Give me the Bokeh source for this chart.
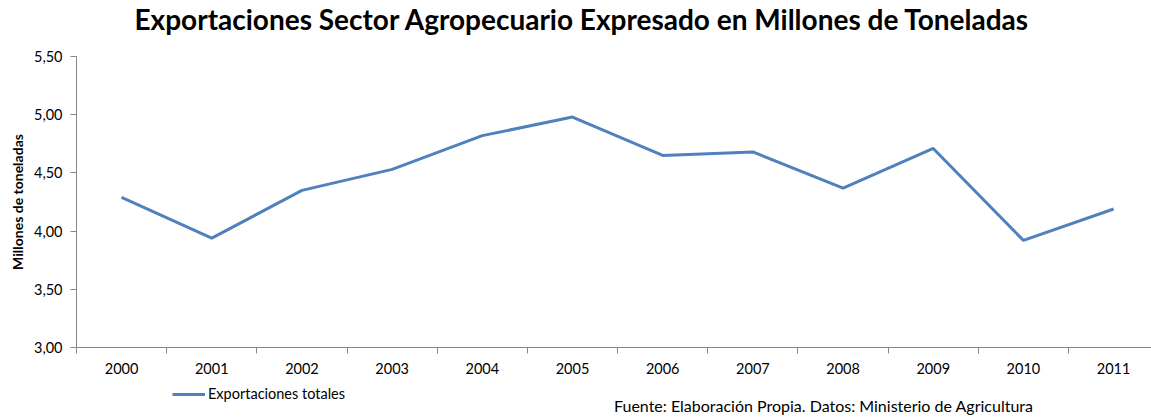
from bokeh.plotting import figure
from bokeh.layouts import column
from bokeh.models import (Range1d, FixedTicker, Legend, LegendItem, Label,
                          ColumnDataSource)
from bokeh.embed import file_html
from bokeh.resources import INLINE

# ---- data ----
years = [2000, 2001, 2002, 2003, 2004, 2005, 2006, 2007, 2008, 2009, 2010, 2011]
exportaciones = [4.29, 3.94, 4.35, 4.53, 4.82, 4.98, 4.65, 4.68, 4.37, 4.71, 3.92, 4.19]
y_ticks = [3.0, 3.5, 4.0, 4.5, 5.0, 5.5]
title_text = "Exportaciones Sector Agropecuario Expresado en Millones de Toneladas"
y_label = "Millones de toneladas"
series_name = "Exportaciones totales"
source_text = "Fuente: Elaboración Propia. Datos: Ministerio de Agricultura"

FONT = "Lato"
LINE_COLOR = "#4F81BD"
AXIS_COLOR = "#868686"
src = ColumnDataSource(dict(x=years, y=exportaciones))


def strip(height):
    f = figure(width=1151, height=height, output_backend="svg", toolbar_location=None,
               x_range=Range1d(76, 1151), y_range=Range1d(0, height),
               min_border=0, min_border_left=0, min_border_right=0,
               min_border_top=0, min_border_bottom=0)
    f.axis.visible = False
    f.grid.visible = False
    f.outline_line_color = None
    return f


# ---- title strip (x in page pixels) ----
p0 = strip(40)
p0.add_layout(Label(x=582, y=22, text=title_text, text_font=FONT,
                    text_font_style="bold", text_font_size="28px",
                    text_color="#000000", text_align="center",
                    text_baseline="middle"))

# ---- main chart ----
p = figure(width=1151, height=340, output_backend="svg", toolbar_location=None,
           x_range=Range1d(years[0] - 0.5, years[0] - 0.5 + 11.92),
           y_range=Range1d(y_ticks[0], y_ticks[-1]),
           min_border_left=76, min_border_right=0, min_border_top=16,
           min_border_bottom=33)
p.outline_line_color = None
p.xgrid.grid_line_color = None
p.ygrid.grid_line_color = None

r = p.line("x", "y", source=src, line_color=LINE_COLOR, line_width=3)

# x axis
xa = p.xaxis[0]
xa.ticker = FixedTicker(ticks=years, minor_ticks=[y - 0.5 for y in years] + [years[-1] + 0.5])
xa.major_label_overrides = {y: str(y) for y in years}
xa.major_tick_line_color = None
xa.major_tick_in = 0
xa.major_tick_out = 0
xa.minor_tick_in = 0
xa.minor_tick_out = 6
xa.minor_tick_line_color = AXIS_COLOR
xa.axis_line_color = AXIS_COLOR
xa.major_label_text_font = FONT
xa.major_label_text_font_size = "14.5px"
xa.major_label_text_color = "#000000"
xa.major_label_standoff = 9

# y axis
ya = p.yaxis[0]
ya.ticker = FixedTicker(ticks=y_ticks)
ya.major_label_overrides = {t: f"{t:.2f}".replace(".", ",") for t in y_ticks}
ya.minor_tick_line_color = None
ya.major_tick_in = 0
ya.major_tick_out = 6
ya.major_tick_line_color = AXIS_COLOR
ya.axis_line_color = AXIS_COLOR
ya.major_label_text_font = FONT
ya.major_label_text_font_size = "14.5px"
ya.major_label_text_color = "#000000"
ya.major_label_standoff = 8
ya.axis_label = y_label
ya.axis_label_text_font = FONT
ya.axis_label_text_font_style = "bold"
ya.axis_label_text_font_size = "14px"
ya.axis_label_text_color = "#000000"
ya.axis_label_standoff = 5

# ---- strip below with legend and source note (x in page pixels) ----
p2 = strip(37)
# legend sample renderer: the same series, lying outside this strip's ranges
sample = p2.line(x=years, y=exportaciones, line_color=LINE_COLOR, line_width=3)

legend = Legend(items=[LegendItem(label=series_name, renderers=[sample])],
                orientation="horizontal", location=(96, 15),
                border_line_color=None, background_fill_alpha=0,
                label_text_font=FONT, label_text_font_size="14.5px",
                label_text_color="#000000",
                glyph_width=33, label_standoff=3, padding=0, margin=0,
                label_height=14, glyph_height=14)
p2.add_layout(legend, "center")

p2.add_layout(Label(x=1033, y=12, text=source_text, text_font=FONT,
                    text_font_size="16px", text_color="#000000",
                    text_align="right", text_baseline="middle"))

layout = column(p0, p, p2, spacing=0)
open("out.html", "w").write(file_html(layout, INLINE))
